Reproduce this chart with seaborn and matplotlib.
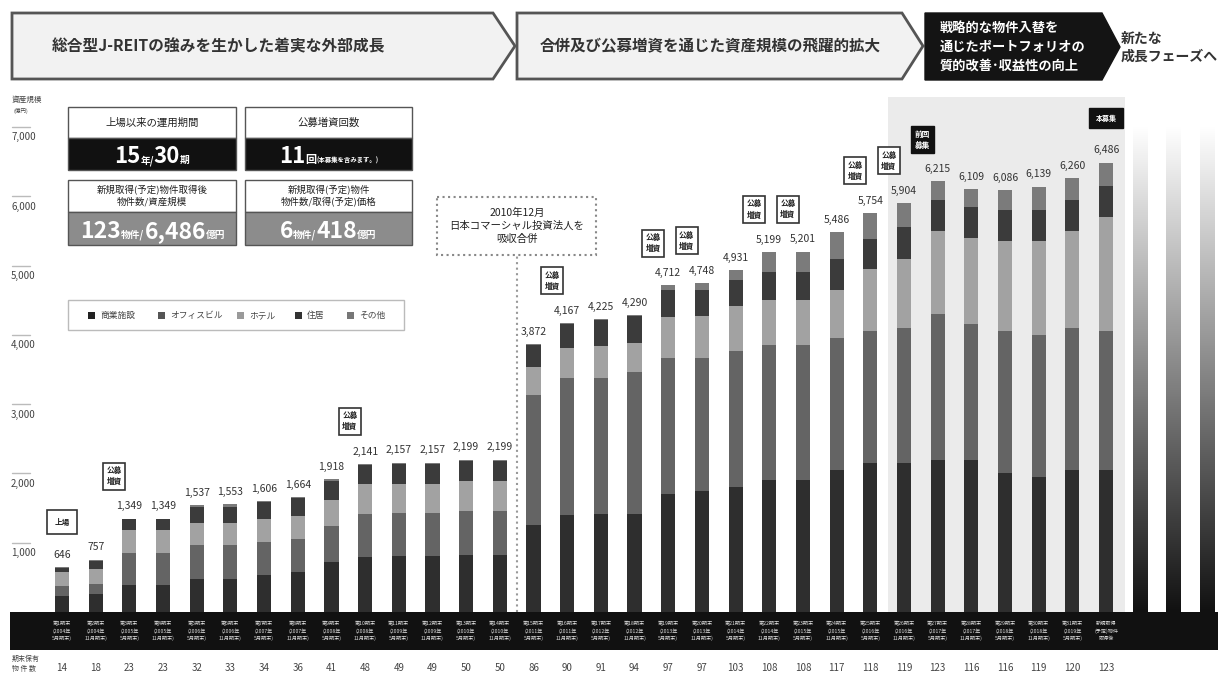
#!/usr/bin/env python3

import numpy as np
import pandas as pd
import matplotlib
matplotlib.use("Agg")
import matplotlib.pyplot as plt
from matplotlib.patches import Rectangle, Polygon
from matplotlib.colors import LinearSegmentedColormap
import seaborn as sns

# ---- data (億円) ----
categories = ["商業施設", "オフィスビル", "ホテル", "住居", "その他"]
retail = [230, 265, 385, 385, 480, 480, 530, 580, 720, 800, 810, 810, 820, 820,
          1255, 1400, 1420, 1420, 1700, 1750, 1810, 1900, 1900, 2050, 2150,
          2150, 2200, 2200, 2000, 1950, 2050, 2050]
office = [140, 145, 470, 470, 480, 480, 480, 480, 520, 620, 620, 620, 640, 640,
          1875, 1975, 1950, 2050, 1960, 1920, 1950, 1950, 1950, 1900, 1900,
          1950, 2100, 1950, 2050, 2050, 2050, 2000]
hotel = [210, 215, 335, 335, 325, 325, 325, 330, 370, 420, 420, 420, 425, 425,
         400, 430, 470, 410, 600, 600, 650, 650, 650, 700, 900,
         1000, 1200, 1250, 1300, 1350, 1400, 1650]
residential = [50, 105, 145, 145, 225, 225, 250, 250, 280, 280, 285, 285, 290, 290,
               330, 350, 370, 395, 390, 375, 375, 400, 400, 450, 430,
               450, 450, 450, 450, 450, 450, 450]
other = [16, 27, 14, 14, 27, 43, 21, 24, 28, 21, 22, 22, 24, 24,
         12, 12, 15, 15, 62, 103, 146, 299, 301, 386, 374,
         354, 265, 259, 286, 339, 310, 336]
totals = [646, 757, 1349, 1349, 1537, 1553, 1606, 1664, 1918, 2141, 2157, 2157,
          2199, 2199, 3872, 4167, 4225, 4290, 4712, 4748, 4931, 5199, 5201,
          5486, 5754, 5904, 6215, 6109, 6086, 6139, 6260, 6486]
property_counts = [14, 18, 23, 23, 32, 33, 34, 36, 41, 48, 49, 49, 50, 50, 86, 90,
                   91, 94, 97, 97, 103, 108, 108, 117, 118, 119, 123, 116, 116,
                   119, 120, 123]
period_years = [2004, 2004, 2005, 2005, 2006, 2006, 2007, 2007, 2008, 2008, 2009,
                2009, 2010, 2010, 2011, 2011, 2012, 2012, 2013, 2013, 2014, 2014,
                2015, 2015, 2016, 2016, 2017, 2017, 2018, 2018, 2019]
period_months = [5, 11]
offering_idx = [2, 9, 15, 18, 19, 21, 22, 24, 25]
prev_offering_idx = 26
this_offering_idx = 31
listing_idx = 0
future_idx = [32, 33, 34]
y_ticks = [1000, 2000, 3000, 4000, 5000, 6000, 7000]

palette = {"商業施設": "#2e2e2e", "オフィスビル": "#646464", "ホテル": "#a2a2a2",
           "住居": "#3b3b3b", "その他": "#7b7b7b"}
legend_colors = ["#222222", "#555555", "#9a9a9a", "#333333", "#777777"]

sns.set_style("white")
plt.rcParams["font.family"] = ["Noto Sans CJK JP", "DejaVu Sans"]
CJK = ["Noto Sans CJK JP", "DejaVu Sans"]

W, H = 1218, 675
X0, DX = 62, 33.68      # pixel of first bar, pixel step
Y0, SY = 612, 0.0693    # pixel of zero, pixels per 億円

fig = plt.figure(figsize=(W / 100, H / 100), dpi=100)
px = fig.add_axes([0, 0, 1, 1], zorder=0)
px.set_xlim(0, W)
px.set_ylim(H, 0)
px.axis("off")
ax = fig.add_axes([0, 0, 1, 1], zorder=1)
ax.patch.set_alpha(0)

# ---- stacked bars ----
n = len(totals)
df = pd.DataFrame({"idx": np.arange(n), "商業施設": retail, "オフィスビル": office,
                   "ホテル": hotel, "住居": residential, "その他": other})
long = df.melt(id_vars="idx", var_name="category", value_name="value")
sns.histplot(data=long, x="idx", weights="value", hue="category",
             hue_order=categories[::-1], multiple="stack", discrete=True,
             shrink=0.42, palette=palette, alpha=1, linewidth=0,
             legend=False, ax=ax)

# fading bars for the next phase
fade = LinearSegmentedColormap.from_list("fade", ["#111111", "#ffffff"])
grad = np.linspace(0, 1, 256).reshape(-1, 1)
for i in future_idx:
    ax.imshow(grad, extent=(i - 0.21, i + 0.21, 0, 7000), origin="lower",
              aspect="auto", cmap=fade, zorder=1)

ax.set_xlim(-X0 / DX, (W - X0) / DX)
ax.set_ylim(-(H - Y0) / SY, Y0 / SY)
ax.axis("off")

# value labels
for i, t in enumerate(totals):
    ax.text(i, t + 175, f"{t:,}", ha="center", va="center", fontsize=7.5,
            color="#333333")

# y ticks
yt = ax.get_yaxis_transform()
for v in y_ticks:
    ax.plot([12 / W, 30 / W], [v, v], transform=yt, color="#bbbbbb", lw=1)
    ax.text(11 / W, v - 150, f"{v:,}", transform=yt, ha="left", va="center",
            fontsize=7, color="#444444")
px.text(12, 100, "資産規模", fontsize=5.5, color="#444444", va="center")
px.text(13, 111, "(億円)", fontsize=4, color="#444444", va="center")

# merger marker
ax.vlines(13.5, 0, 5150, colors="#999999", linestyles=":", lw=1.5)
px.add_patch(Rectangle((437, 197), 159, 58, facecolor="white",
                       edgecolor="#888888", ls=":", lw=1.5))
px.text(517, 226, "2010年12月\n日本コマーシャル投資法人を\n吸収合併", ha="center",
        va="center", fontsize=7.5, linespacing=1.35, color="#222222")

# shaded phase background
px.add_patch(Rectangle((888, 97), 237, Y0 - 97, facecolor="#ebebeb",
                       edgecolor="none", zorder=0))

# offering markers
box = dict(boxstyle="square,pad=0.45", facecolor="white", edgecolor="#333333", lw=1.2)
for i in offering_idx:
    ax.text(i - 0.45, totals[i] + 610, "公募\n増資", ha="center", va="center",
            fontsize=5.5, fontweight="bold", linespacing=1.3, color="#222222", bbox=box)
ax.text(listing_idx, totals[listing_idx] + 650, "上場", ha="center", va="center",
        fontsize=5.5, fontweight="bold", color="#222222",
        bbox=dict(boxstyle="square,pad=1.0", facecolor="white",
                  edgecolor="#333333", lw=1.2))
black = dict(boxstyle="square,pad=0.45", facecolor="#111111", edgecolor="#111111", lw=1)
ax.text(prev_offering_idx - 0.45, totals[prev_offering_idx] + 600, "前回\n募集",
        ha="center", va="center", fontsize=5.5, fontweight="bold",
        linespacing=1.3, color="white", bbox=black)
ax.text(this_offering_idx, totals[this_offering_idx] + 640, "本募集",
        ha="center", va="center", fontsize=5, fontweight="bold", color="white",
        bbox=dict(boxstyle="square,pad=0.9", facecolor="#111111",
                  edgecolor="#111111", lw=1))

# period band
px.add_patch(Rectangle((10, Y0), W - 10, 38, facecolor="#111111", edgecolor="none"))
for i in range(n):
    if i < len(period_years):
        lab = f"第{i + 1}期末\n({period_years[i]}年\n{period_months[i % 2]}月期末)"
    else:
        lab = "新規取得\n(予定)物件\n取得後"
    ax.text(i, -(631 - Y0) / SY, lab, ha="center", va="center", fontsize=3.7,
            linespacing=1.45, color="#dddddd")
    ax.text(i, -(668 - Y0) / SY, str(property_counts[i]), ha="center",
            va="center", fontsize=7, color="#444444")
px.text(12, 664, "期末保有\n物 件 数", fontsize=5, linespacing=1.4,
        va="center", color="#444444")

# ---- top banners ----
px.add_patch(Polygon([(12, 13), (493, 13), (515, 46), (493, 79), (12, 79)],
                     facecolor="#f2f2f2", edgecolor="#555555", lw=2))
px.text(52, 46, "総合型J-REITの強みを生かした着実な外部成長", fontsize=11.3,
        fontweight="bold", va="center", color="#333333")
px.add_patch(Polygon([(517, 13), (902, 13), (923, 46), (902, 79), (517, 79)],
                     facecolor="#f2f2f2", edgecolor="#555555", lw=2))
px.text(540, 46, "合併及び公募増資を通じた資産規模の飛躍的拡大", fontsize=11.2,
        fontweight="bold", va="center", color="#333333")
px.add_patch(Polygon([(925, 13), (1102, 13), (1120, 47), (1102, 80), (925, 80)],
                     facecolor="#141414", edgecolor="#141414", lw=1))
px.text(940, 47, "戦略的な物件入替を\n通じたポートフォリオの\n質的改善･収益性の向上",
        fontsize=9.5, fontweight="bold", linespacing=1.45, va="center",
        color="white")
px.text(1121, 48, "新たな\n成長フェーズへ", fontsize=10, fontweight="bold",
        linespacing=1.4, va="center", color="#333333")

# ---- info boxes ----
renderer = fig.canvas.get_renderer()


def rich(cx, y, parts, color="white"):
    texts = []
    for s, size in parts:
        texts.append(px.text(0, y, s, fontsize=size, fontweight="bold",
                             family=CJK, color=color, ha="left", va="baseline"))
    widths = [t.get_window_extent(renderer).width for t in texts]
    x = cx - sum(widths) / 2
    for t, w in zip(texts, widths):
        t.set_x(x)
        x += w


def info_box(x, y, w, h_top, h_bot, title, fill):
    px.add_patch(Rectangle((x, y), w, h_top, facecolor="white",
                           edgecolor="#555555", lw=1))
    px.add_patch(Rectangle((x, y + h_top), w, h_bot, facecolor=fill,
                           edgecolor="#555555", lw=1))
    px.text(x + w / 2, y + h_top / 2, title, ha="center", va="center",
            fontsize=7.5 if "\n" not in title else 6.8, linespacing=1.3,
            color="#222222")


info_box(68, 107, 168, 31, 32, "上場以来の運用期間", "#111111")
rich(152, 163, [("15", 16), ("年/", 7), ("30", 16), ("期", 7)])
info_box(245, 107, 167, 31, 32, "公募増資回数", "#111111")
rich(329, 163, [("11", 16), ("回", 8), ("(本募集を含みます。)", 4.6)])
info_box(68, 180, 168, 32, 33, "新規取得(予定)物件取得後\n物件数/資産規模", "#8c8c8c")
rich(153, 238, [("123", 16.5), ("物件/", 7), ("6,486", 16.5), ("億円", 7)])
info_box(245, 180, 167, 32, 33, "新規取得(予定)物件\n物件数/取得(予定)価格", "#8c8c8c")
rich(328, 238, [("6", 16.5), ("物件/", 7), ("418", 16.5), ("億円", 7)])

# legend
px.add_patch(Rectangle((68, 300), 336, 30, facecolor="white", edgecolor="#bbbbbb", lw=1))
legend_x = [88, 158, 237, 295, 347]
for lx, cat, col in zip(legend_x, categories, legend_colors):
    px.add_patch(Rectangle((lx, 312), 7, 7, facecolor=col, edgecolor="none"))
    px.text(lx + 12, 315.5, cat, fontsize=6.3, va="center", color="#444444")

fig.savefig("out.png", dpi=100)
plt.close(fig)
